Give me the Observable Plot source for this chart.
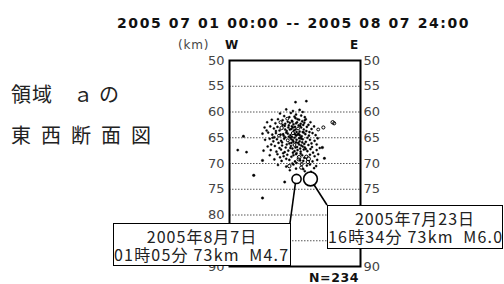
<!DOCTYPE html>
<html><head><meta charset="utf-8">
<script src="https://cdn.jsdelivr.net/npm/d3@7"></script>
<script src="https://cdn.jsdelivr.net/npm/@observablehq/plot@0.6"></script>
<style>
body{margin:0;background:#fff;}
#wrap{position:relative;width:504px;height:284px;overflow:hidden;}
#wrap svg{position:absolute;left:0;top:0;}
.abs{position:absolute;white-space:pre;line-height:1;}
.box{position:absolute;background:#fff;border:1.5px solid #000;box-sizing:border-box;font-family:"Noto Sans CJK JP",sans-serif;color:#222;}
.box div{position:absolute;white-space:pre;line-height:1;}
</style></head><body><div id="wrap"></div>
<script>
// Hypocentres: horizontal position (km from W edge), depth (km), magnitude
const eventX = [
12.8,14.9,2.7,1.6,3.3,6.4,4.7,10.7,6.4,20.0,20.3,18.2,17.2,17.1,18.0,18.4,11.6,
11.0,12.3,13.6,14.2,9.8,10.6,12.9,13.9,11.6,14.6,
8.2,9.4,10.3,11.2,12.1,12.8,13.5,14.1,14.8,7.3,8.9,9.9,10.8,11.7,12.4,13.1,13.8,14.5,15.3,
6.8,7.9,8.6,9.3,10.1,10.7,11.4,12.0,12.7,13.3,13.9,14.4,15.0,15.9,16.4,9.7,11.1,12.5,13.6,14.9,
6.4,7.5,8.3,9.0,9.6,10.4,11.0,11.8,12.3,12.9,13.4,14.0,14.7,15.4,16.1,8.7,10.8,12.6,13.8,15.1,
6.9,7.8,8.5,9.2,10.0,10.6,11.3,12.0,12.4,13.0,13.6,14.2,14.8,15.6,16.5,9.5,11.6,13.3,14.5,8.1,
7.4,8.8,10.2,10.9,11.9,12.6,13.1,13.9,14.6,15.3,16.0,9.7,12.2,15.7,
6.6,8.0,9.1,10.0,10.7,11.4,12.3,13.2,13.8,14.4,15.1,16.2,16.9,
7.8,9.3,10.5,11.2,12.0,12.9,13.5,14.1,14.9,15.6,16.5,17.2,
8.7,10.1,11.6,12.7,13.4,14.3,15.3,16.1,17.0,
9.4,11.0,12.4,13.9,15.0,16.4,11.7,14.6,
11.9,12.6,13.2,12.2,13.4,12.9,11.5,12.1,13.7,14.3,
11.7,12.3,13.0,12.8,14.2,11.3,12.1,13.2,13.6,14.4,
11.5,12.7,13.9,12.3,11.8,12.9,13.5,14.1,11.1,12.8,
13.5,14.2,12.0,13.7,12.6,11.8,14.8,13.0,12.4,13.8,
14.5,15.2,13.0,14.0,15.6,12.9,14.3,15.8,16.8,10.5,
10.2,9.9,10.8,10.3,11.3,14.6,15.5,15.9,10.4,11.0,
9.0,8.4,16.9,17.5,7.2,15.7,16.7,9.8,12.2,13.7
];
const eventDepth = [
58.1,57.9,64.7,67.4,67.8,69.4,72.3,73.6,76.7,62.0,62.2,63.0,63.4,65.1,66.9,69.0,70.5,
59.5,59.8,59.6,60.0,60.3,60.8,60.5,60.7,61.0,61.0,
61.5,61.4,61.6,61.3,61.7,61.2,61.5,61.8,61.4,62.0,62.2,62.0,62.3,62.1,62.4,62.0,62.3,62.1,62.5,
63.0,62.8,63.2,62.9,63.1,62.7,63.0,63.3,62.9,63.2,63.0,63.4,62.9,63.3,62.8,63.6,63.7,63.6,63.8,63.7,
64.2,64.0,64.4,64.1,64.6,64.3,64.0,64.5,64.1,64.6,64.2,64.7,64.3,64.6,64.1,64.9,64.9,65.0,64.9,65.0,
65.4,65.2,65.7,65.3,65.6,65.2,65.5,65.3,65.8,65.4,65.7,65.3,65.8,65.4,65.6,66.0,66.1,66.0,66.2,66.3,
66.7,66.6,66.5,66.9,66.6,66.4,66.8,66.5,66.9,66.4,66.8,67.0,67.1,67.2,
67.5,67.4,67.7,67.3,67.8,67.5,67.9,67.4,67.7,67.3,67.6,67.9,67.4,
68.4,68.2,68.6,68.3,68.7,68.2,68.8,68.4,68.7,68.3,68.6,68.2,
69.2,69.5,69.3,69.6,69.2,69.5,69.1,69.6,69.3,
70.3,70.6,70.2,70.8,70.4,70.9,71.3,71.5,
60.2,60.9,61.4,61.9,62.6,62.2,62.6,62.8,62.7,62.5,
63.4,63.0,63.9,63.4,63.9,64.2,64.8,64.4,64.5,64.0,
64.8,64.3,65.2,65.5,65.0,65.9,65.1,65.9,66.3,66.9,
66.3,66.7,66.0,67.1,67.6,67.0,67.2,68.0,68.4,68.1,
68.9,69.7,69.9,70.1,70.2,71.0,71.1,71.6,70.5,64.6,
65.9,64.4,63.4,62.5,61.9,61.6,63.9,66.1,68.0,69.1,
63.7,65.0,66.3,67.0,63.6,62.0,64.5,68.8,70.0,69.4
];
const eventMag = [
1.2,1.2,1.4,1.2,1.2,1.4,1.6,1.3,1.5,2.2,2.0,2.0,1.8,1.2,1.6,1.4,2.2,
1.0,1.0,1.2,1.0,1.0,1.0,1.0,1.0,1.0,1.0,
1.0,1.0,1.0,1.8,1.0,1.0,1.0,1.2,1.0,1.0,1.0,2.0,1.0,1.0,1.0,1.0,1.0,1.0,1.0,
1.0,1.0,1.0,1.0,2.2,1.0,1.0,1.0,1.0,1.8,1.0,1.0,1.0,1.0,1.0,1.0,1.0,1.0,1.0,1.0,
1.0,1.0,1.0,1.0,1.8,1.0,1.0,1.0,2.0,1.0,1.0,1.0,1.0,1.0,1.0,1.0,1.0,1.0,1.0,1.0,
1.0,1.0,1.0,1.0,1.0,1.0,1.8,1.0,1.0,1.0,1.0,1.0,1.0,1.0,1.0,1.0,1.0,1.0,1.0,1.0,
1.0,1.0,1.0,1.0,1.0,1.8,1.0,1.0,1.0,1.0,1.0,1.0,1.0,1.0,
1.0,1.0,1.0,1.0,1.0,1.0,1.0,1.0,1.0,1.0,1.0,1.0,1.0,
1.0,1.0,1.0,1.0,1.0,1.0,2.4,1.0,2.2,1.0,1.0,1.0,
1.0,1.0,1.0,1.0,2.0,1.0,2.6,1.0,1.0,
1.0,1.0,1.0,2.0,1.0,1.0,1.0,1.0,
1.0,1.0,1.0,1.0,1.0,1.0,1.0,1.0,1.0,1.0,
1.0,1.0,1.0,1.0,1.0,1.0,1.0,1.0,1.0,1.0,
1.0,1.0,1.0,1.0,1.0,1.0,1.0,1.0,1.0,1.0,
1.0,1.0,1.0,1.0,1.0,1.0,1.0,1.0,1.0,1.0,
1.0,2.2,1.0,2.0,1.0,1.0,1.0,1.0,1.0,1.0,
1.0,1.0,1.0,1.0,1.0,1.0,1.0,1.0,1.0,1.0,
1.0,1.0,1.0,1.0,1.0,1.0,1.0,1.0,1.0,1.0
];
// Labelled main events
const mainX = [13.0, 15.7];
const mainDepth = [73, 73];
const mainMag = [4.7, 6.0];
const mainDate = ["2005年8月7日", "2005年7月23日"];
const mainInfo = ["01時05分 73km  M4.7", "16時34分 73km  M6.0"];
// Axis
const depthTicks = [50, 55, 60, 65, 70, 75, 80, 85, 90];
const gridTicks = [55, 60, 65, 70, 75, 80, 85];
const titleText = "2005 07 01 00:00 -- 2005 08 07 24:00";
const sideTitleA = ["領域", "ａの"];
const sideTitleB = "東西断面図";
const countText = "N=234";

const pts = eventX.map((x, i) => ({x, depth: eventDepth[i], mag: eventMag[i]}));
const small = pts.filter(d => d.mag < 1.7);
const larger = pts.filter(d => d.mag >= 1.7);
const mains = mainX.map((x, i) => ({x, depth: mainDepth[i], mag: mainMag[i]}));

const plot = Plot.plot({
  width: 504, height: 284,
  marginLeft: 229, marginRight: 144, marginTop: 60, marginBottom: 18,
  style: {fontFamily: "DejaVu Sans", background: "transparent"},
  x: {domain: [0, 25.4], axis: null},
  y: {domain: [50, 90], reverse: true, axis: null},
  r: {type: "pow", exponent: 2, domain: [0, 6], range: [0.9, 6.9]},
  marks: [
    Plot.ruleY(gridTicks, {stroke: "#555", strokeDasharray: "1.5,1.5", strokeWidth: 1}),
    Plot.axisY({anchor: "left", ticks: depthTicks, tickSize: 0, tickPadding: 5, fontSize: 13, color: "#444", label: null}),
    Plot.axisY({anchor: "right", ticks: depthTicks, tickSize: 0, tickPadding: 3, fontSize: 13, color: "#444", label: null}),
    Plot.dot(small, {x: "x", y: "depth", r: "mag", fill: "#000", stroke: "#000", strokeWidth: 0.4}),
    Plot.dot(larger, {x: "x", y: "depth", r: "mag", stroke: "#000", strokeWidth: 1}),
    Plot.dot(mains, {x: "x", y: "depth", r: "mag", stroke: "#000", fill: "white", strokeWidth: 1.6}),
    Plot.frame({stroke: "#000", strokeWidth: 2})
  ]
});

const wrap = document.getElementById("wrap");
wrap.appendChild(plot);

// leader lines from main events to annotation boxes
const sx = plot.scale("x"), sy = plot.scale("y"), sr = plot.scale("r");
const boxes = [
  {left: 113, top: 223, width: 178, height: 43, corner: [290, 223]},
  {left: 327, top: 205, width: 176, height: 44, corner: [327, 205]}
];
const svg = d3.select(plot);
mains.forEach((m, i) => {
  const cx = sx.apply(m.x), cy = sy.apply(m.depth), r = sr.apply(m.mag);
  const [tx, ty] = boxes[i].corner;
  const dx = tx - cx, dy = ty - cy, len = Math.hypot(dx, dy);
  svg.append("line")
    .attr("x1", cx + dx / len * r).attr("y1", cy + dy / len * r)
    .attr("x2", tx).attr("y2", ty)
    .attr("stroke", "#000").attr("stroke-width", 1.6);
});

function addText(txt, css) {
  const d = document.createElement("div");
  d.className = "abs";
  d.textContent = txt;
  Object.assign(d.style, css);
  wrap.appendChild(d);
  return d;
}
addText(titleText, {left: "117px", top: "15px", font: "bold 14px 'DejaVu Sans'", letterSpacing: "1.6px", color: "#111"});
addText("(km)", {left: "178px", top: "38px", font: "12px 'DejaVu Sans'", letterSpacing: "0.8px", color: "#444"});
addText("W", {left: "225px", top: "38px", font: "bold 12px 'DejaVu Sans'", color: "#111"});
addText("E", {left: "350px", top: "38px", font: "bold 12px 'DejaVu Sans'", color: "#111"});

// side title, first line in two spaced parts
const st = document.createElement("div");
st.className = "abs";
Object.assign(st.style, {left: "11px", top: "79px", font: "20px 'Noto Sans CJK JP'", color: "#222"});
const sa = document.createElement("span");
sa.textContent = sideTitleA[0];
sa.style.letterSpacing = "1px";
const sb = document.createElement("span");
sb.textContent = sideTitleA[1];
Object.assign(sb.style, {marginLeft: "20px", letterSpacing: "6px"});
st.appendChild(sa); st.appendChild(sb);
wrap.appendChild(st);
addText(sideTitleB, {left: "11px", top: "120px", font: "20px 'Noto Sans CJK JP'", letterSpacing: "10px", color: "#222"});
addText(countText, {left: "309px", top: "270px", font: "bold 12.5px 'DejaVu Sans'", letterSpacing: "0.6px", color: "#111"});

boxes.forEach((b, i) => {
  const d = document.createElement("div");
  d.className = "box";
  Object.assign(d.style, {left: b.left + "px", top: b.top + "px", width: b.width + "px", height: b.height + "px"});
  const l1 = document.createElement("div");
  l1.textContent = mainDate[i];
  Object.assign(l1.style, {left: "0", width: "100%", textAlign: "center", top: "4px", fontSize: "16px", letterSpacing: "1px"});
  const l2 = document.createElement("div");
  l2.textContent = mainInfo[i];
  Object.assign(l2.style, {left: "0px", top: "22px", fontSize: "16px", letterSpacing: "1.2px"});
  d.appendChild(l1); d.appendChild(l2);
  wrap.appendChild(d);
});
</script></body></html>
